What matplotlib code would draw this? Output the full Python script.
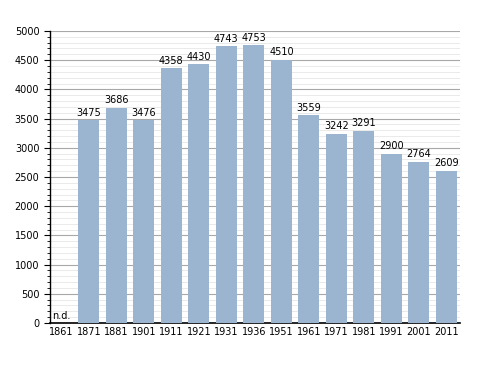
import matplotlib.pyplot as plt
import numpy as np

# --- Datos ---
years = ["1861", "1871", "1881", "1901", "1911", "1921", "1931", "1936",
         "1951", "1961", "1971", "1981", "1991", "2001", "2011"]
population = [None, 3475, 3686, 3476, 4358, 4430, 4743, 4753,
              4510, 3559, 3242, 3291, 2900, 2764, 2609]

BAR_COLOR = "#9bb4d0"

fig = plt.figure(figsize=(4.88, 3.73), dpi=100)
ax = fig.add_axes([0.102, 0.134, 0.841, 0.783])

x = np.arange(len(years))
# solo barras con dato
xb = [xi for xi, v in zip(x, population) if v is not None]
vb = [v for v in population if v is not None]
ax.bar(xb, vb, width=0.76, color=BAR_COLOR, zorder=3)

for xi, v in zip(x, population):
    if v is None:
        ax.text(xi - 0.33, 40, "n.d.", ha="left", va="bottom", fontsize=7, zorder=4)
    else:
        ax.text(xi, v + 40, str(v), ha="center", va="bottom", fontsize=7, zorder=4)

ax.set_xlim(-0.42, 14.5)
ax.set_ylim(0, 5000)
ax.set_xticks(x)
ax.set_xticklabels(years, fontsize=7)
ax.tick_params(axis="x", length=0, pad=3)
ax.set_yticks(np.arange(0, 5001, 500))
ax.set_yticks(np.arange(0, 5001, 100), minor=True)
ax.tick_params(axis="y", which="major", labelsize=7, length=4, direction="out")
ax.tick_params(axis="y", which="minor", length=2, direction="out")

ax.grid(axis="y", which="major", color="#a8a8a8", linewidth=0.8, zorder=0)
ax.grid(axis="y", which="minor", color="#e6e6e6", linewidth=0.6, zorder=0)

for s in ["top", "right"]:
    ax.spines[s].set_visible(False)
ax.spines["left"].set_linewidth(1.0)
ax.spines["bottom"].set_linewidth(1.2)

fig.savefig("out.png", dpi=100)
